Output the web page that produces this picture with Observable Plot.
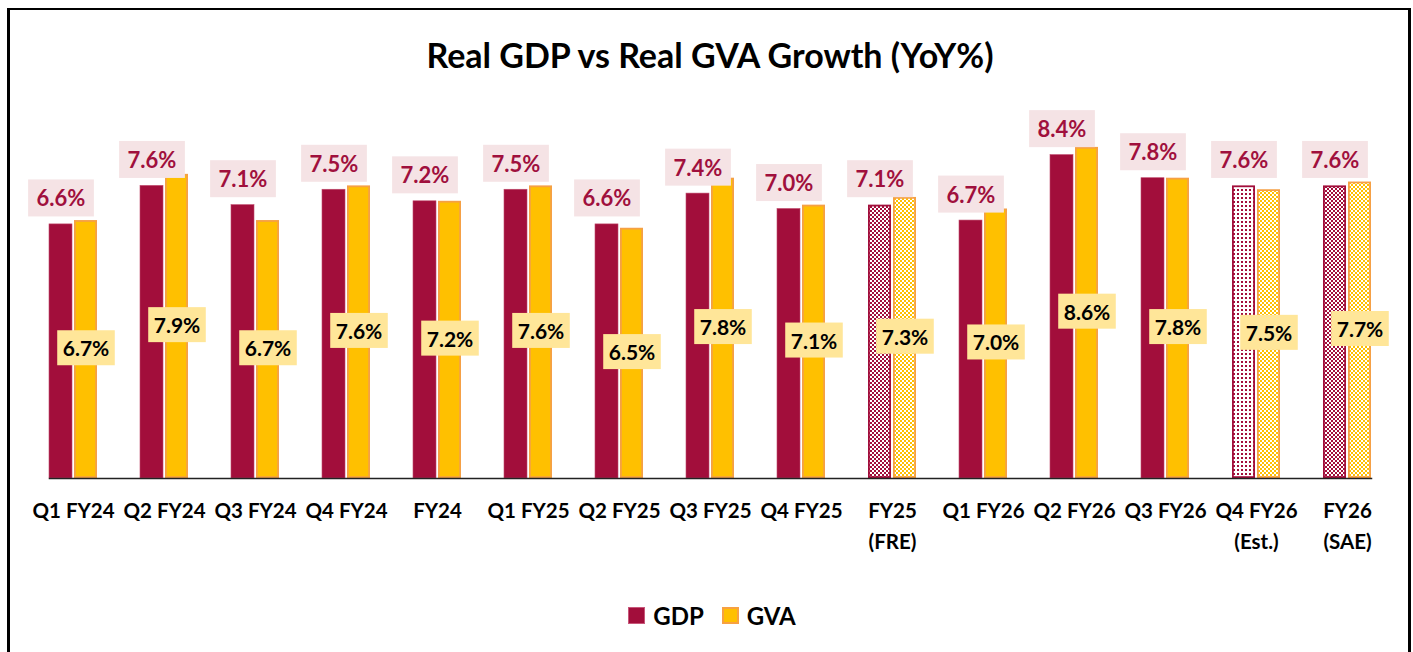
<!DOCTYPE html>
<html>
<head>
<meta charset="utf-8">
<script src="https://cdn.jsdelivr.net/npm/d3@7"></script>
<script src="https://cdn.jsdelivr.net/npm/@observablehq/plot@0.6"></script>
<style>
  html, body { margin: 0; padding: 0; background: #fff; }
  #page { position: relative; width: 1413px; height: 652px; overflow: hidden; font-family: Lato, "Open Sans", sans-serif; }
  #border { position: absolute; left: 7px; top: 8px; width: 1398px; height: 700px; border: 3px solid #000; border-top-width: 2px; }
  #title { position: absolute; top: 35px; left: 0; width: 1420px; text-align: center; font-size: 34px; font-weight: bold; line-height: 40px; color: #000; }
  #chart { position: absolute; top: 80px; left: 0; }
  #legend { position: absolute; top: 601px; left: 0; width: 1424px; display: flex; justify-content: center; align-items: center; font-size: 24px; font-weight: bold; color: #000; }
  .item { display: flex; align-items: center; margin: 0 9px; }
  .sw { width: 17px; height: 17px; box-sizing: border-box; margin-right: 8px; }
</style>
</head>
<body>
<div id="page">
  <div id="border"></div>
  <div id="title">Real GDP vs Real GVA Growth (YoY%)</div>
  <div id="chart"></div>
  <div id="legend">
    <div class="item"><div class="sw" style="background:#A20E3B;border:1px solid #C8577A"></div>GDP</div>
    <div class="item"><div class="sw" style="background:#FFC000;border:2px solid #F7A142"></div>GVA</div>
  </div>
</div>
<script>
// ---- data ----
const categories = ["Q1 FY24", "Q2 FY24", "Q3 FY24", "Q4 FY24", "FY24", "Q1 FY25", "Q2 FY25", "Q3 FY25", "Q4 FY25", "FY25\n(FRE)", "Q1 FY26", "Q2 FY26", "Q3 FY26", "Q4 FY26\n(Est.)", "FY26\n(SAE)"];
const gdp = [6.6, 7.6, 7.1, 7.5, 7.2, 7.5, 6.6, 7.4, 7.0, 7.1, 6.7, 8.4, 7.8, 7.6, 7.6];
const gva = [6.7, 7.9, 6.7, 7.6, 7.2, 7.6, 6.5, 7.8, 7.1, 7.3, 7.0, 8.6, 7.8, 7.5, 7.7];
const status = ["actual", "actual", "actual", "actual", "actual", "actual", "actual", "actual", "actual", "revised", "actual", "actual", "actual", "estimate", "advance"];
const seriesNames = ["GDP", "GVA"];

const rows = categories.flatMap((c, i) => [
  {cat: c, series: "GDP", value: gdp[i], status: status[i]},
  {cat: c, series: "GVA", value: gva[i], status: status[i]}
]);

const CRIMSON = "#A20E3B", YELLOW = "#FFC000", ORANGE = "#F5A045";
const LABEL_GDP = "#A0103D", LABEL_GVA = "#000000";
const gdpRows = rows.filter(d => d.series === "GDP");
const gvaRows = rows.filter(d => d.series === "GVA");

const common = {fx: "cat", x: "series", y: "value"};

const plot = Plot.plot({
  width: 1413,
  height: 478,
  marginTop: 13,
  marginBottom: 80,
  marginLeft: 24,
  marginRight: 18,
  style: {fontFamily: "Lato, 'Open Sans', sans-serif", fontWeight: "bold", color: "#000", background: "transparent"},
  fx: {domain: categories, paddingInner: 0.475, paddingOuter: 0.2375, label: null, axis: null},
  x: {domain: seriesNames, paddingInner: 0.08, paddingOuter: 0, axis: null},
  y: {domain: [0, 10], axis: null},
  marks: [
    Plot.barY(gdpRows.filter(d => d.status === "actual"), {...common, fill: CRIMSON, stroke: "#C04A6C", strokeWidth: 0.6}),
    Plot.barY(gdpRows.filter(d => d.status === "revised" || d.status === "advance"), {...common, fill: "url(#gdpChecker)", stroke: CRIMSON, strokeWidth: 1.8, inset: 0.9}),
    Plot.barY(gdpRows.filter(d => d.status === "estimate"), {...common, fill: "url(#gdpDots)", stroke: CRIMSON, strokeWidth: 1.8, inset: 0.9}),
    Plot.barY(gvaRows.filter(d => d.status === "actual"), {...common, fill: YELLOW, stroke: ORANGE, strokeWidth: 1.8, inset: 0.9}),
    Plot.barY(gvaRows.filter(d => d.status !== "actual"), {...common, fill: "url(#gvaChecker)", stroke: ORANGE, strokeWidth: 1.8, inset: 0.9}),
    Plot.frame({anchor: "bottom", facet: "super", stroke: "#222", strokeWidth: 1.5}),
    Plot.text(gdpRows, {...common, text: d => d.value.toFixed(1) + "%", dy: -25, fill: LABEL_GDP, fontSize: 22, fontWeight: "bold"}),
    Plot.text(gvaRows, {fx: "cat", x: "series", y: d => d.value / 2, text: d => d.value.toFixed(1) + "%", fill: LABEL_GVA, fontSize: 21, fontWeight: "bold"}),
    Plot.axisFx({anchor: "bottom", tickSize: 0, tickPadding: 18, fontSize: 20.5, fontWeight: "bold", lineHeight: 1.5, fill: "#000", label: null})
  ]
});

const svg = d3.select(plot);
svg.insert("defs", ":first-child").html(`
  <pattern id="gdpChecker" width="4" height="4" patternUnits="userSpaceOnUse">
    <rect width="4" height="4" fill="#fff"/>
    <rect width="2" height="2" fill="${CRIMSON}"/>
    <rect x="2" y="2" width="2" height="2" fill="${CRIMSON}"/>
  </pattern>
  <pattern id="gdpDots" width="4" height="4" patternUnits="userSpaceOnUse">
    <rect width="4" height="4" fill="#fff"/>
    <rect x="1" y="1" width="2" height="2" fill="${CRIMSON}"/>
  </pattern>
  <pattern id="gvaChecker" width="4" height="4" patternUnits="userSpaceOnUse">
    <rect width="4" height="4" fill="#fff"/>
    <rect width="2" height="2" fill="${YELLOW}"/>
    <rect x="2" y="2" width="2" height="2" fill="${YELLOW}"/>
  </pattern>
`);

document.getElementById("chart").appendChild(plot);

// background boxes behind the data labels, sized from the rendered text
function effectiveFill(el) {
  let n = el;
  while (n && n !== plot) {
    const f = n.getAttribute && n.getAttribute("fill");
    if (f) return f.toLowerCase();
    n = n.parentNode;
  }
  return null;
}
const boxStyle = {
  [LABEL_GDP.toLowerCase()]: {fill: "#F5E3E5", padX: 8.5, h: 37},
  [LABEL_GVA.toLowerCase()]: {fill: "#FFE699", padX: 5.5, h: 35}
};
svg.selectAll("text").each(function () {
  if (!this.textContent.trim().endsWith("%")) return;
  const s = boxStyle[effectiveFill(this)];
  if (!s) return;
  const b = this.getBBox();
  const cy = b.y + b.height / 2;
  const r = document.createElementNS("http://www.w3.org/2000/svg", "rect");
  r.setAttribute("x", b.x - s.padX);
  r.setAttribute("y", cy - s.h / 2);
  r.setAttribute("width", b.width + 2 * s.padX);
  r.setAttribute("height", s.h);
  r.setAttribute("fill", s.fill);
  const t = this.getAttribute("transform");
  if (t) r.setAttribute("transform", t);
  this.parentNode.insertBefore(r, this);
});
</script>
</body>
</html>
